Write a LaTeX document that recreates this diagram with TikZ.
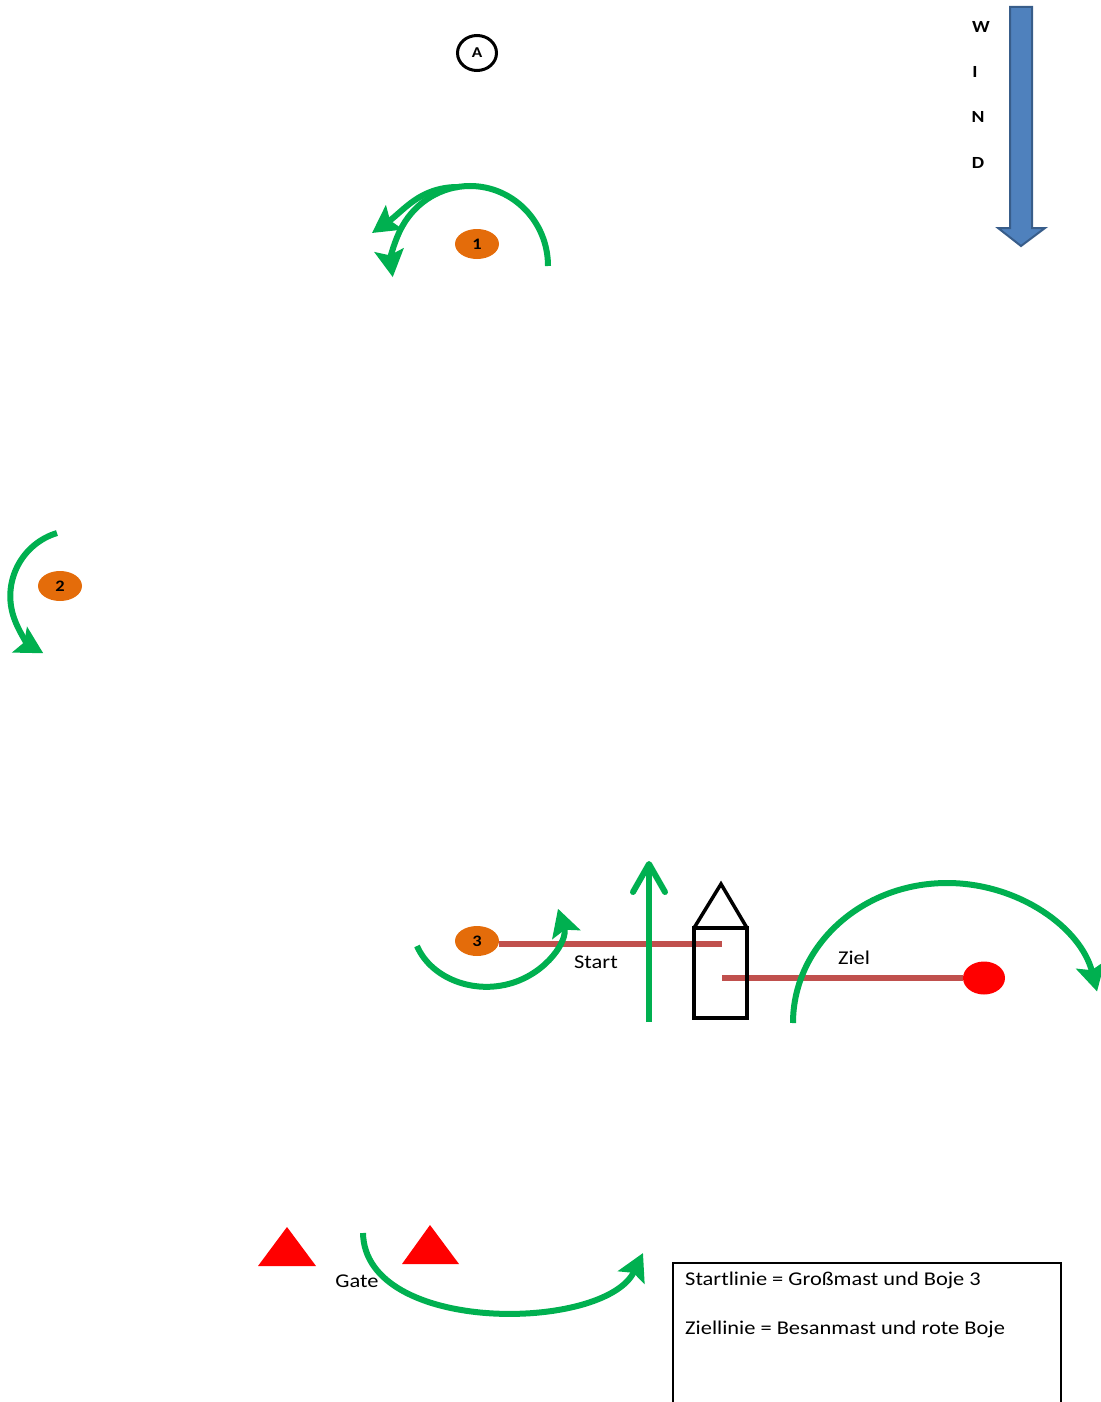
\documentclass[tikz,border=0pt]{standalone}
\usepackage{fontspec}
\setmainfont{Carlito}[FakeStretch=1.15]
\usetikzlibrary{arrows.meta,shapes.geometric}
\definecolor{grn}{HTML}{00B050}
\definecolor{buoyorange}{HTML}{E46C0A}
\definecolor{linered}{HTML}{C0504D}
\definecolor{windfill}{HTML}{4F81BD}
\definecolor{winddraw}{HTML}{385D8A}
\begin{document}
\begin{tikzpicture}[x=1pt,y=1pt,
  route/.style={draw=grn,line width=6pt,-{Stealth[length=27pt,width=29pt,inset=5pt]}},
  buoy/.style={ellipse,fill=buoyorange,minimum width=44pt,minimum height=30pt,inner sep=0pt,font=\fontsize{16}{16}\selectfont\bfseries},
  lbl/.style={font=\fontsize{19.5}{19.5}\selectfont,inner sep=0pt},
  windlbl/.style={font=\fontsize{17}{17}\selectfont\bfseries,inner sep=0pt},
  mline/.style={draw=linered,line width=6pt},
  boat/.style={draw=black,line width=3.5pt,line join=miter},
  gatemark/.style={fill=red,draw=none},
]
\useasboundingbox (0,0) rectangle (1100,-1402);

% mark A
\node[draw,ellipse,line width=3pt,minimum width=39pt,minimum height=35pt,inner sep=0pt,font=\fontsize{15}{15}\selectfont\bfseries] (markA) at (477,-53) {A};

% wind arrow
\draw[fill=windfill,draw=winddraw,line width=2pt,line join=miter]
  (1010,-7) -- (1032,-7) -- (1032,-228) -- (1045,-228) -- (1021,-246) -- (998,-228) -- (1010,-228) -- cycle;
\node[windlbl] (wW) at (981,-27) {W};
\node[windlbl] (wI) at (975,-72) {I};
\node[windlbl] (wN) at (978,-117) {N};
\node[windlbl] (wD) at (978,-163) {D};

% buoys
\node[buoy] (b1) at (477,-244) {1};
\node[buoy] (b2) at (60,-586) {2};
\node[buoy] (b3) at (477,-941) {3};
\node[ellipse,fill=red,minimum width=42pt,minimum height=33pt,inner sep=0pt] (rb) at (984,-978) {};

% boat coordinates
\coordinate (mainmast) at (722,-944);
\coordinate (mizzen) at (722,-978);

% start / finish lines
\draw[mline] (b3.east |- mainmast) -- (mainmast);
\draw[mline] (mizzen) -- (rb.west);
\node[lbl] (start) at (596,-962) {Start};
\node[lbl] (ziel) at (854,-958) {Ziel};

% boat
\draw[boat] (694,-928) rectangle (747,-1018);
\draw[boat] (694,-928) -- (721,-884) -- (747,-928);

% gate
\fill[gatemark] (258,-1266) -- (316,-1266) -- (287,-1227) -- cycle;
\fill[gatemark] (402,-1264) -- (459,-1264) -- (430,-1225) -- cycle;
\node[lbl] (gate) at (357,-1281) {Gate};

% green routes
\draw[route] (548,-266) arc[start angle=0,end angle=188,x radius=78,y radius=80];
\draw[route] (458,-187) to[out=180,in=35] (372,-233);
\draw[route] (57,-533) arc[start angle=107,end angle=240,radius=66];
\draw[route] (417,-946) arc[start angle=200,end angle=375,x radius=74,y radius=62];
\draw[route] (793,-1023) arc[start angle=180,end angle=13,x radius=154,y radius=140];
\draw[route] (363,-1233) .. controls (365,-1335) and (605,-1332) .. (643,-1253);
\coordinate (vb) at (649,-1022);
\coordinate (vt) at (649,-864);
\draw[grn,line width=6pt] (vb) -- (vt);
\draw[grn,line width=6pt,line cap=round,line join=round] (633,-892) -- (vt) -- (665,-892);

% legend box
\draw[line width=1.5pt] (673,-1263) rectangle (1061,-1425);
\node[lbl,anchor=west] (l1) at (685,-1280) {Startlinie = Großmast und Boje  3};
\node[lbl,anchor=west] (l2) at (685,-1329) {Ziellinie = Besanmast und rote Boje};
\end{tikzpicture}
\end{document}
